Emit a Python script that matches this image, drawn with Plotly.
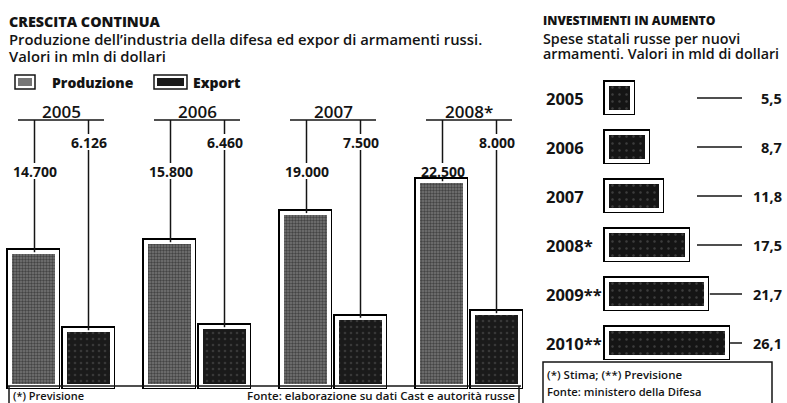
import plotly.graph_objects as go

W, H = 787, 403

# ---- Left chart data (mln di dollari) ----
years_left = ["2005", "2006", "2007", "2008*"]
produzione = [14700, 15800, 19000, 22500]
export = [6126, 6460, 7500, 8000]
prod_labels = ["14.700", "15.800", "19.000", "22.500"]
exp_labels = ["6.126", "6.460", "7.500", "8.000"]

# ---- Right chart data (mld di dollari) ----
years_right = ["2005", "2006", "2007", "2008*", "2009**", "2010**"]
spese = [5.5, 8.7, 11.8, 17.5, 21.7, 26.1]
spese_labels = ["5,5", "8,7", "11,8", "17,5", "21,7", "26,1"]

FONT = "Open Sans"
INK = "#141414"
PROD_FILL = "#767676"
EXP_FILL = "#1a1a1a"

# ---------- geometry helpers ----------
BASE_PY = 386          # baseline pixel row of left chart
S = 0.0091             # px per unit (left)
G0, GSTEP = 61, 136    # group centre / spacing (px)
BW = 47                # bar width (px)
OFF = 27.5             # bar offset from group centre

def gx(i):
    return G0 + GSTEP * i

def yv(py):
    return (BASE_PY - py) / S

def pap(py):
    return 1 - py / H

RX0 = 606.5            # right chart bar base (px)
RS = 4.6               # px per unit (right)
RY0, RSTEP = 98, 49    # first row centre / row spacing

def xv(px):
    return (px - RX0) / RS

fig = go.Figure()

# ---------- left bars ----------
prod_pattern = dict(shape=".", bgcolor=PROD_FILL, fgcolor="#111111", size=3, solidity=0.5)
exp_pattern = dict(shape=".", bgcolor=EXP_FILL, fgcolor="#555555", size=6, solidity=0.15)
for name, vals, sgn, pat in [("Produzione", produzione, -1, prod_pattern),
                             ("Export", export, 1, exp_pattern)]:
    xs = [gx(i) + sgn * OFF for i in range(len(vals))]
    fig.add_trace(go.Bar(x=xs, y=vals, width=BW, xaxis="x", yaxis="y",
                         marker=dict(color="black", line=dict(color="black", width=7)),
                         showlegend=False, hoverinfo="skip"))
    fig.add_trace(go.Bar(x=xs, y=vals, width=BW, xaxis="x", yaxis="y", name=name,
                         marker=dict(color=pat["bgcolor"], pattern=pat,
                                     line=dict(color="white", width=4)),
                         showlegend=False))

# ---------- right bars ----------
rows = list(range(len(spese)))
fig.add_trace(go.Bar(y=rows, x=spese, orientation="h", width=28 / RSTEP, xaxis="x2", yaxis="y2",
                     marker=dict(color="black", line=dict(color="black", width=7)),
                     showlegend=False, hoverinfo="skip"))
fig.add_trace(go.Bar(y=rows, x=spese, orientation="h", width=28 / RSTEP, xaxis="x2", yaxis="y2",
                     marker=dict(color="#151515", pattern=dict(shape=".", bgcolor="#151515", fgcolor="#666666", size=7, solidity=0.1),
                                 line=dict(color="white", width=4)),
                     showlegend=False, name="Spese"))

shapes = []
ann = []

def line(x0, y0, x1, y1, xref, yref, w=1.5):
    shapes.append(dict(type="line", x0=x0, y0=y0, x1=x1, y1=y1, xref=xref, yref=yref,
                       line=dict(color=INK, width=w)))

def prect(x0, py0, x1, py1, fill, lw=1.5, lc=INK):
    shapes.append(dict(type="rect", x0=x0 / W, x1=x1 / W, y0=pap(py0), y1=pap(py1), xref="paper",
                       yref="paper", line=dict(color=lc, width=lw), fillcolor=fill))

# brackets, year labels, leaders, value labels (left)
for i, yr in enumerate(years_left):
    c = gx(i)
    line(c - 43, yv(120), c + 43, yv(120), "x", "y")
    ann.append(dict(x=c, y=pap(112), xref="x", yref="paper", text=yr, showarrow=False,
                    font=dict(family=FONT, size=17, color=INK, weight=600), yanchor="middle"))
    # production
    px = c - OFF + 1
    line(px, yv(120), px, yv(163), "x", "y")
    top = produzione[i]
    if top < yv(181):
        line(px, yv(179), px, top, "x", "y")
    ann.append(dict(x=px, y=pap(171), xref="x", yref="paper", text=prod_labels[i], showarrow=False,
                    font=dict(family=FONT, size=14, color=INK, weight=700), yanchor="middle"))
    # export
    ex = c + OFF
    line(ex, yv(120), ex, yv(134), "x", "y")
    line(ex, yv(150), ex, export[i], "x", "y")
    ann.append(dict(x=ex, y=pap(142), xref="x", yref="paper", text=exp_labels[i], showarrow=False,
                    font=dict(family=FONT, size=14, color=INK, weight=700), yanchor="middle"))

# left footer frame
shapes.append(dict(type="line", x0=8 / W, x1=521 / W, y0=pap(386), y1=pap(386), xref="paper", yref="paper",
                   line=dict(color=INK, width=1.5)))
shapes.append(dict(type="line", x0=9 / W, x1=9 / W, y0=pap(386), y1=pap(405), xref="paper", yref="paper",
                   line=dict(color=INK, width=1.5)))
shapes.append(dict(type="line", x0=519 / W, x1=519 / W, y0=pap(386), y1=pap(405), xref="paper", yref="paper",
                   line=dict(color=INK, width=1.5)))

# right: year labels, leaders, values
for i, yr in enumerate(years_right):
    ann.append(dict(x=544 / W, y=i, xref="paper", yref="y2", text=yr, showarrow=False, xanchor="left",
                    font=dict(family=FONT, size=16.5, color=INK, weight=700), yanchor="middle"))
    ann.append(dict(x=784 / W, y=i, xref="paper", yref="y2", text=spese_labels[i], showarrow=False,
                    xanchor="right", font=dict(family=FONT, size=14.5, color=INK, weight=700), yanchor="middle"))
    x0 = max(xv(697), spese[i] + 3.5 / RS)
    line(x0, i, xv(742), i, "x2", "y2")

# right footer box
prect(543, 362, 772, 410, "rgba(0,0,0,0)")

# legend (drawn): framed swatches + labels
legend_items = [("Produzione", PROD_FILL, 15, 35, 50), ("Export", EXP_FILL, 154, 187, 191)]
for lab, fill, x0, x1, tx in legend_items:
    prect(x0, 75, x1, 89, "white")
    prect(x0 + 3, 78, x1 - 3, 86, fill, lw=0)
    ann.append(dict(x=tx / W, y=pap(82), xref="paper", yref="paper", text=lab, showarrow=False,
                    xanchor="left", yanchor="middle",
                    font=dict(family=FONT, size=14, color=INK, weight=800)))

# titles and texts
def txt(x, py, s, size, weight=400, anchor="left"):
    ann.append(dict(x=x / W, y=pap(py), xref="paper", yref="paper", text=s, showarrow=False,
                    xanchor=anchor, yanchor="middle",
                    font=dict(family=FONT, size=size, color=INK, weight=weight)))

txt(7, 22, "CRESCITA CONTINUA", 14.3, 800)
txt(7, 39, "Produzione dell’industria della difesa ed expor di armamenti russi.", 14.8, 600)
txt(7, 56, "Valori in mln di dollari", 14.8, 600)
txt(541, 20, "INVESTIMENTI IN AUMENTO", 12.2, 800)
txt(541, 38, "Spese statali russe per nuovi", 14.3, 600)
txt(541, 54, "armamenti. Valori in mld di dollari", 14.3, 600)
txt(11, 395, "(*) Previsione", 11, 600)
txt(517, 395, "Fonte: elaborazione su dati Cast e autorità russe", 11.5, 600, "right")
txt(545, 374, "(*) Stima; (**) Previsione", 11.5, 600)
txt(545, 391, "Fonte: ministero della Difesa", 11.2, 600)

fig.update_layout(
    width=W, height=H, margin=dict(l=0, r=0, t=0, b=0),
    paper_bgcolor="white", plot_bgcolor="rgba(0,0,0,0)",
    barmode="overlay", bargap=0,
    xaxis=dict(domain=[0, 1], range=[0, W], visible=False, fixedrange=True),
    yaxis=dict(domain=[0, 1], range=[yv(H), yv(0)], visible=False, fixedrange=True),
    xaxis2=dict(domain=[0, 1], range=[xv(0), xv(W)], visible=False, anchor="y2", overlaying="x",
                fixedrange=True),
    yaxis2=dict(domain=[0, 1], range=[(H - RY0) / RSTEP, -RY0 / RSTEP], visible=False, anchor="x2",
                overlaying="y", fixedrange=True),
    showlegend=False,
    shapes=shapes, annotations=ann,
)

fig.write_html("out.html", config={"displayModeBar": False},
               post_script="document.body.style.margin='0';")
